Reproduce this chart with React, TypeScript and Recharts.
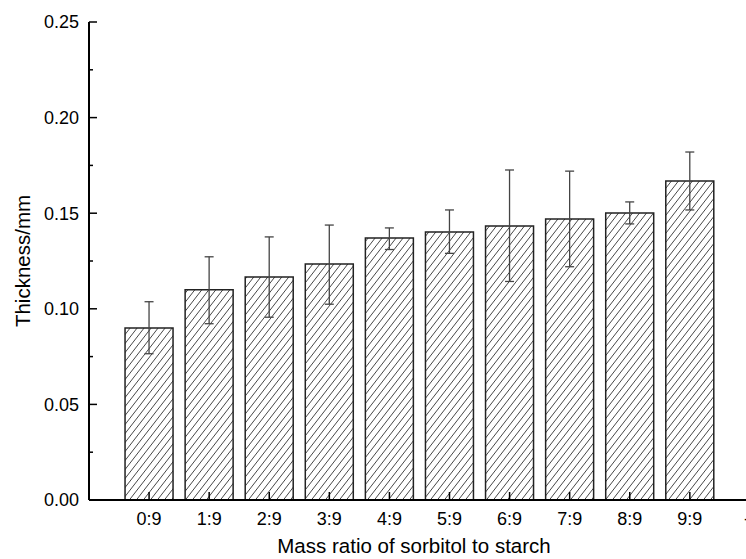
import React from "react";
import { ComposedChart, Bar, ErrorBar, XAxis, YAxis, Label } from "recharts";

const categories = ["0:9", "1:9", "2:9", "3:9", "4:9", "5:9", "6:9", "7:9", "8:9", "9:9"];
const thickness = [0.09, 0.11, 0.1166, 0.1234, 0.137, 0.1402, 0.1433, 0.147, 0.1501, 0.1668];
const errLow = [0.0135, 0.0178, 0.021, 0.021, 0.006, 0.0112, 0.029, 0.025, 0.0057, 0.0151];
const errHigh = [0.0137, 0.0172, 0.021, 0.0204, 0.0053, 0.0115, 0.0293, 0.025, 0.0058, 0.0152];
const yTicks = [0, 0.025, 0.05, 0.075, 0.1, 0.125, 0.15, 0.175, 0.2, 0.225, 0.25];
const xTicks = [0, 1, 2, 3, 4, 5, 6, 7, 8, 9, 10];

const data = categories.map((c, i) => ({
  pos: i,
  label: c,
  value: thickness[i],
  err: [errLow[i], errHigh[i]],
}));

const FONT = "'Liberation Sans', Arial, sans-serif";

const YTick = (props: any) => {
  const { x, y, payload } = props;
  const major = Math.round(payload.value * 1000) % 50 === 0;
  return (
    <g>
      <line x1={x + 10} y1={y} x2={x + 10 + (major ? 8 : 4)} y2={y} stroke="#000" strokeWidth={1.5} />
      {major && (
        <text x={x} y={y} dy="0.355em" textAnchor="end" fontSize={18} fontFamily={FONT} fill="#000">
          {payload.value.toFixed(2)}
        </text>
      )}
    </g>
  );
};

const XTick = (props: any) => {
  const { x, y, payload } = props;
  const v = payload.value;
  const text = v < categories.length ? categories[v] : "-";
  return (
    <g>
      <line x1={x} y1={y - 18.5} x2={x} y2={y - 26.5} stroke="#000" strokeWidth={1.5} />
      <text x={x} y={y} dy="0.355em" textAnchor={v < categories.length ? "middle" : "end"} fontSize={18} fontFamily={FONT} fill="#000">
        {text}
      </text>
    </g>
  );
};

const TopTick = (props: any) => {
  const { x, y } = props;
  return <line x1={x} y1={y} x2={x} y2={y + 2} stroke="#000" strokeWidth={1} />;
};

export default function App() {
  return (
    <div style={{ position: "absolute", left: 8, top: 8, width: 738, height: 551, overflow: "hidden", background: "#fff" }}>
      <ComposedChart width={802} height={551} data={data} margin={{ top: 14, right: 0, bottom: 0, left: 0 }}>
        <defs>
          <pattern id="hatch" patternUnits="userSpaceOnUse" width={7} height={9}>
            <rect width={7} height={9} fill="#fff" />
            <path d="M-1,1.3 L1,-1.3 M0,9 L7,0 M6,10.3 L8,7.7" stroke="#333" strokeWidth={0.9} />
          </pattern>
        </defs>
        <XAxis
          dataKey="pos"
          type="number"
          domain={[-1, 11]}
          ticks={xTicks}
          interval={0}
          height={59}
          tickSize={0}
          tickMargin={18.5}
          tickLine={false}
          tick={<XTick />}
          axisLine={{ stroke: "#000", strokeWidth: 2 }}
          allowDataOverflow
        >
          <Label
            content={() => (
              <text x={406} y={545} textAnchor="middle" fontSize={20.5} fontFamily={FONT} fill="#000">
                Mass ratio of sorbitol to starch
              </text>
            )}
          />
        </XAxis>
        <XAxis
          xAxisId="top"
          orientation="top"
          type="number"
          domain={[-1, 11]}
          ticks={xTicks}
          interval={0}
          height={0}
          tickSize={0}
          tickMargin={0}
          tickLine={false}
          tick={<TopTick />}
          axisLine={{ stroke: "#000", strokeWidth: 2 }}
          allowDataOverflow
        />
        <YAxis
          type="number"
          domain={[0, 0.25]}
          ticks={yTicks}
          interval={0}
          width={81}
          tickSize={0}
          tickMargin={10}
          tickLine={false}
          tick={<YTick />}
          axisLine={{ stroke: "#000", strokeWidth: 2 }}
          allowDataOverflow
        >
          <Label
            content={() => (
              <text
                x={14}
                y={253}
                transform="rotate(-90 14 253)"
                textAnchor="middle"
                dominantBaseline="central"
                fontSize={20.5}
                fontFamily={FONT}
                fill="#000"
              >
                Thickness/mm
              </text>
            )}
          />
        </YAxis>
        <Bar dataKey="value" barSize={48} fill="url(#hatch)" stroke="#222" strokeWidth={1.5} isAnimationActive={false}>
          <ErrorBar dataKey="err" width={4.5} stroke="#444" strokeWidth={1.3} isAnimationActive={false} />
        </Bar>
      </ComposedChart>
    </div>
  );
}
